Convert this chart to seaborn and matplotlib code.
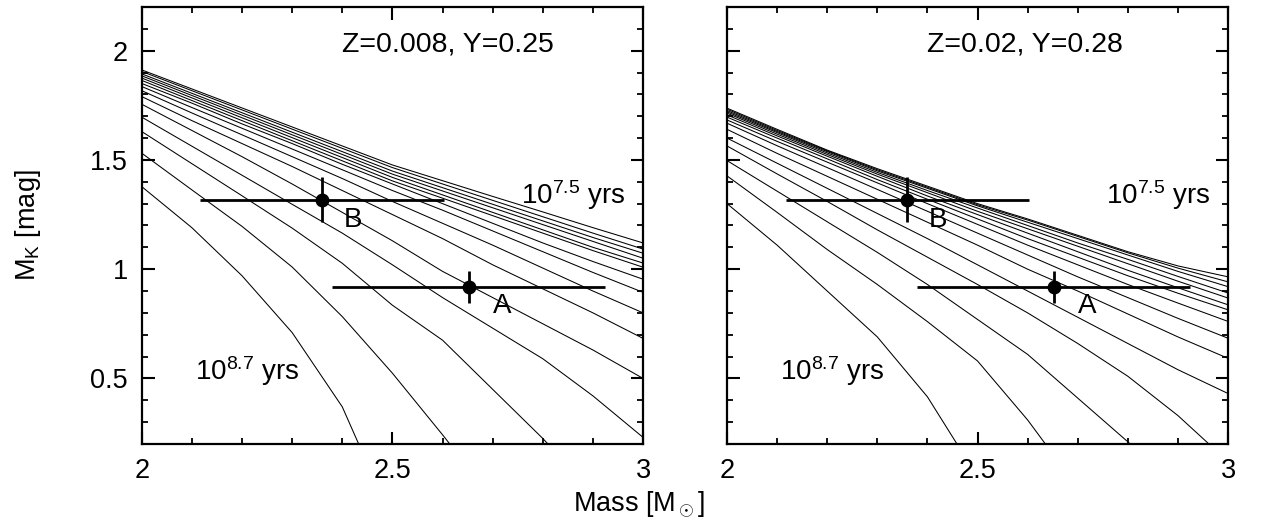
import numpy as np
import pandas as pd
import matplotlib
matplotlib.use("Agg")
import matplotlib.pyplot as plt
import seaborn as sns
from matplotlib.ticker import MultipleLocator

# ---------------- data ----------------
MASS = [2.0, 2.1, 2.2, 2.3, 2.4, 2.5, 2.6, 2.7, 2.8, 2.9, 3.0]
nan = np.nan

# isochrones, oldest (10^8.7 yr) first, youngest (10^7.5 yr) last
ISO_Z008 = [
    [1.378, 1.19, 0.97, 0.71, 0.37, -0.15, nan, nan, nan, nan, nan],
    [1.531, 1.363, 1.196, 1.01, 0.783, 0.524, 0.242, -0.05, nan, nan, nan],
    [1.63, 1.483, 1.336, 1.188, 1.027, 0.835, 0.675, 0.45, 0.225, -0.02, nan],
    [1.696, 1.563, 1.43, 1.297, 1.165, 1.02, 0.87, 0.73, 0.59, 0.42, 0.23],
    [1.755, 1.635, 1.515, 1.39, 1.26, 1.13, 0.99, 0.87, 0.75, 0.63, 0.50],
    [1.79, 1.68, 1.575, 1.47, 1.36, 1.25, 1.14, 1.02, 0.91, 0.80, 0.683],
    [1.817, 1.715, 1.615, 1.515, 1.415, 1.31, 1.21, 1.11, 1.005, 0.90, 0.80],
    [1.836, 1.74, 1.645, 1.55, 1.455, 1.36, 1.27, 1.175, 1.08, 0.985, 0.894],
    [1.85, 1.76, 1.665, 1.575, 1.48, 1.39, 1.30, 1.21, 1.12, 1.035, 0.954],
    [1.864, 1.772, 1.68, 1.588, 1.496, 1.404, 1.325, 1.245, 1.165, 1.085, 1.009],
    [1.875, 1.784, 1.693, 1.602, 1.511, 1.42, 1.34, 1.26, 1.18, 1.10, 1.028],
    [1.885, 1.795, 1.705, 1.615, 1.525, 1.435, 1.358, 1.281, 1.204, 1.127, 1.05],
    [1.894, 1.805, 1.716, 1.627, 1.538, 1.449, 1.373, 1.297, 1.221, 1.145, 1.073],
    [1.905, 1.817, 1.729, 1.641, 1.553, 1.465, 1.39, 1.315, 1.24, 1.165, 1.092],
    [1.912, 1.825, 1.738, 1.651, 1.564, 1.477, 1.405, 1.333, 1.262, 1.19, 1.12],
]

ISO_Z02 = [
    [1.30, 1.11, 0.90, 0.69, 0.416, 0.05, nan, nan, nan, nan, nan],
    [1.427, 1.26, 1.09, 0.93, 0.76, 0.58, 0.31, 0.0, nan, nan, nan],
    [1.497, 1.357, 1.217, 1.077, 0.93, 0.77, 0.61, 0.41, 0.21, 0.0, nan],
    [1.564, 1.436, 1.31, 1.18, 1.055, 0.93, 0.80, 0.66, 0.51, 0.33, 0.12],
    [1.60, 1.485, 1.37, 1.255, 1.14, 1.02, 0.90, 0.78, 0.66, 0.54, 0.431],
    [1.64, 1.53, 1.425, 1.32, 1.215, 1.11, 1.00, 0.90, 0.795, 0.69, 0.592],
    [1.668, 1.565, 1.465, 1.365, 1.265, 1.165, 1.065, 0.965, 0.87, 0.775, 0.684],
    [1.683, 1.585, 1.49, 1.395, 1.30, 1.205, 1.11, 1.02, 0.93, 0.845, 0.761],
    [1.696, 1.60, 1.505, 1.41, 1.32, 1.23, 1.14, 1.055, 0.97, 0.89, 0.814],
    [1.706, 1.61, 1.517, 1.425, 1.335, 1.25, 1.165, 1.08, 0.995, 0.915, 0.837],
    [1.714, 1.618, 1.525, 1.435, 1.35, 1.265, 1.185, 1.105, 1.025, 0.945, 0.868],
    [1.72, 1.625, 1.532, 1.443, 1.36, 1.28, 1.20, 1.12, 1.045, 0.967, 0.891],
    [1.726, 1.63, 1.538, 1.45, 1.37, 1.29, 1.215, 1.14, 1.065, 0.99, 0.92],
    [1.732, 1.635, 1.542, 1.455, 1.375, 1.295, 1.225, 1.15, 1.075, 1.005, 0.942],
    [1.737, 1.64, 1.545, 1.46, 1.38, 1.30, 1.23, 1.155, 1.08, 1.015, 0.965],
]

PANEL_TITLES = ["Z=0.008, Y=0.25", "Z=0.02, Y=0.28"]
STAR_NAMES = ["B", "A"]
STAR_MASS = [2.36, 2.652]
STAR_MASS_ERR = [0.243, 0.272]
STAR_MK = [1.318, 0.918]
STAR_MK_ERR = [0.103, 0.074]
YOUNG_LABEL = r"10$^{\mathregular{7.5}}$ yrs"
OLD_LABEL = r"10$^{\mathregular{8.7}}$ yrs"

# ---------------- style ----------------
sns.set_theme(style="ticks")
plt.rcParams["font.family"] = ["Liberation Sans", "DejaVu Sans"]
plt.rcParams["mathtext.fontset"] = "custom"
plt.rcParams["mathtext.rm"] = "Liberation Sans"
plt.rcParams["mathtext.it"] = "Liberation Sans:italic"
plt.rcParams["mathtext.bf"] = "Liberation Sans:bold"
plt.rcParams["text.color"] = "black"
plt.rcParams["axes.labelcolor"] = "black"
plt.rcParams["xtick.color"] = "black"
plt.rcParams["ytick.color"] = "black"

FS = 20

fig = plt.figure(figsize=(12.71, 5.29), dpi=100)
ax_l = fig.add_axes([0.1115, 0.1607, 0.3945, 0.8261])
ax_r = fig.add_axes([0.5720, 0.1607, 0.3942, 0.8261])

for ax, iso, title, show_y in [(ax_l, ISO_Z008, PANEL_TITLES[0], True),
                               (ax_r, ISO_Z02, PANEL_TITLES[1], False)]:
    rows = []
    for k, vals in enumerate(iso):
        for m, v in zip(MASS, vals):
            if not np.isnan(v):
                rows.append({"mass": m, "mk": v, "iso": k})
    df = pd.DataFrame(rows)
    sns.lineplot(data=df, x="mass", y="mk", units="iso", estimator=None,
                 sort=False, color="black", linewidth=0.75, ax=ax, legend=False)

    ax.errorbar(STAR_MASS, STAR_MK, xerr=STAR_MASS_ERR, yerr=STAR_MK_ERR,
                fmt="o", color="black", ms=9, elinewidth=2.0, capsize=0,
                zorder=5)

    ax.text(2.40, 1.995, title, fontsize=FS + 0.5, ha="left", va="baseline")
    ax.text(2.757, 1.298, YOUNG_LABEL, fontsize=FS, ha="left", va="baseline")
    ax.text(2.106, 0.493, OLD_LABEL, fontsize=FS, ha="left", va="baseline")
    ax.text(2.403, 1.195, STAR_NAMES[0], fontsize=FS, ha="left", va="baseline")
    ax.text(2.70, 0.798, STAR_NAMES[1], fontsize=FS, ha="left", va="baseline")

    ax.set_xlim(2.0, 3.0)
    ax.set_ylim(0.2, 2.2)
    ax.xaxis.set_minor_locator(MultipleLocator(0.1))
    ax.yaxis.set_minor_locator(MultipleLocator(0.1))
    ax.set_xticks([2.0, 2.5, 3.0])
    ax.set_xticklabels(["2", "2.5", "3"])
    ax.set_yticks([0.5, 1.0, 1.5, 2.0])
    if show_y:
        ax.set_yticklabels(["0.5", "1", "1.5", "2"])
    else:
        ax.set_yticklabels([])
    ax.tick_params(which="both", direction="in", top=True, right=True,
                   labelsize=FS - 0.5, colors="black", labelcolor="black")
    ax.tick_params(which="major", length=9, width=1.5, pad=10)
    ax.tick_params(which="minor", length=4.5, width=1.3)
    for sp in ax.spines.values():
        sp.set_visible(True)
        sp.set_linewidth(1.6)
        sp.set_color("black")
    ax.set_xlabel("")
    ax.set_ylabel("")

fig.text(0.022, 0.575, r"M$_{\mathregular{K}}$ [mag]", fontsize=FS - 0.5,
         rotation=90, ha="center", va="center", color="black")
fig.text(0.503, 0.045, r"Mass [M$_\odot$]", fontsize=FS - 0.5, ha="center",
         va="center", color="black")

fig.savefig("out.png", dpi=100)
